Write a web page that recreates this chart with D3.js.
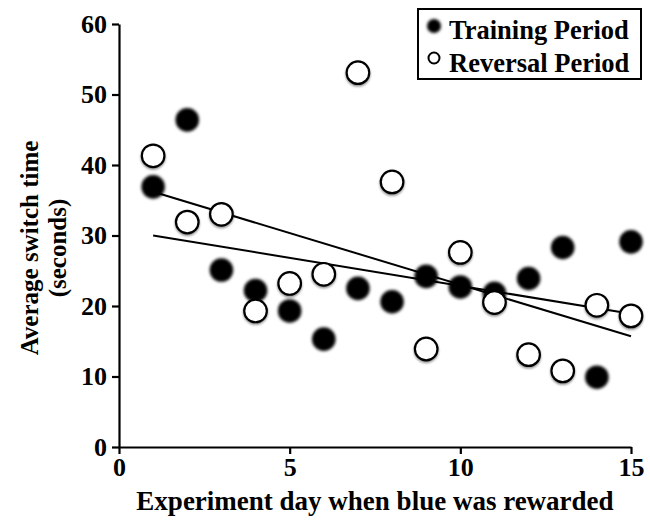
<!DOCTYPE html>
<html><head><meta charset="utf-8">
<script src="https://cdn.jsdelivr.net/npm/d3@7"></script>
<style>html,body{margin:0;padding:0;background:#fff}</style>
</head><body>
<svg id="c" width="650" height="521"></svg>
<script>
const days = [1,2,3,4,5,6,7,8,9,10,11,12,13,14,15];
const training = [36.9,46.4,25.1,22.2,19.3,15.3,22.5,20.6,24.2,22.7,21.8,23.9,28.3,9.9,29.1];
const reversal = [41.3,31.9,33.0,19.3,23.2,24.5,53.1,37.6,13.9,27.6,20.5,13.1,10.8,20.1,18.6];
const trendReversal = [[1,36.2],[15,15.7]];
const trendTraining = [[1,30.0],[15,18.9]];
const xTicks = [0,5,10,15];
const yTicks = [0,10,20,30,40,50,60];
const seriesNames = ["Training Period","Reversal Period"];

const svg = d3.select("#c");
const font = "'Liberation Serif','Times New Roman',serif";
const x = d3.scaleLinear().domain([0,15]).range([119,631]);
const y = d3.scaleLinear().domain([0,60]).range([447,24]);

const defs = svg.append("defs");
const fb = defs.append("filter").attr("id","blur").attr("x","-50%").attr("y","-50%").attr("width","200%").attr("height","200%");
fb.append("feGaussianBlur").attr("stdDeviation",1.4);
const fs = defs.append("filter").attr("id","shadow").attr("x","-50%").attr("y","-50%").attr("width","200%").attr("height","200%");
fs.append("feDropShadow").attr("dx",0).attr("dy",1.5).attr("stdDeviation",1.2).attr("flood-color","#000").attr("flood-opacity",0.45);

// axes
const yAxis = d3.axisLeft(y).tickValues(yTicks).tickSize(7).tickSizeOuter(0).tickPadding(5);
const xAxis = d3.axisBottom(x).tickValues(xTicks).tickSize(7).tickSizeOuter(0).tickPadding(4);
const gy = svg.append("g").attr("transform",`translate(${x(0)},0)`).call(yAxis);
const gx = svg.append("g").attr("transform",`translate(0,${y(0)})`).call(xAxis);
[gx,gy].forEach(g=>{
  g.selectAll("path,line").attr("stroke","#000").attr("stroke-width",2.2);
  g.selectAll("text").attr("fill","#000").style("font-family",font).style("font-weight","bold").style("font-size","26px");
});

// trend lines
const line = d3.line().x(d=>x(d[0])).y(d=>y(d[1]));
[trendReversal,trendTraining].forEach(t=>{
  svg.append("path").attr("d",line(t)).attr("fill","none").attr("stroke","#000").attr("stroke-width",2);
});

// points: draw interleaved in day order
const pts = [];
days.forEach((d,i)=>{ pts.push({d, v:training[i], s:0}); pts.push({d, v:reversal[i], s:1}); });
const g = svg.append("g");
pts.forEach(p=>{
  if(p.s===0){
    g.append("circle").attr("cx",x(p.d)).attr("cy",y(p.v)).attr("r",11.8).attr("fill","#000").attr("filter","url(#blur)");
  } else {
    g.append("circle").attr("cx",x(p.d)).attr("cy",y(p.v)).attr("r",11.3).attr("fill","#fff").attr("stroke","#000").attr("stroke-width",2.2).attr("filter","url(#shadow)");
  }
});

// legend
const lg = svg.append("g");
lg.append("rect").attr("x",418).attr("y",9).attr("width",223).attr("height",70).attr("fill","#fff").attr("stroke","#000").attr("stroke-width",2);
lg.append("circle").attr("cx",434).attr("cy",26).attr("r",7).attr("fill","#000").attr("filter","url(#blur)");
lg.append("circle").attr("cx",434).attr("cy",58).attr("r",5.5).attr("fill","#fff").attr("stroke","#000").attr("stroke-width",2);
seriesNames.forEach((n,i)=>{
  lg.append("text").attr("x",449).attr("y",[39,72][i]).text(n)
    .style("font-family",font).style("font-weight","bold").style("font-size","26.5px").attr("fill","#000");
});

// axis titles
svg.append("text").attr("x",375).attr("y",510).attr("text-anchor","middle").text("Experiment day when blue was rewarded")
  .style("font-family",font).style("font-weight","bold").style("font-size","27px");
const yt = svg.append("text").attr("transform","rotate(-90)").attr("text-anchor","middle")
  .style("font-family",font).style("font-weight","bold").style("font-size","25px");
yt.append("tspan").attr("x",-248).attr("y",38).text("Average switch time");
yt.append("tspan").attr("x",-248).attr("y",66).text("(seconds)");
</script>
</body></html>
